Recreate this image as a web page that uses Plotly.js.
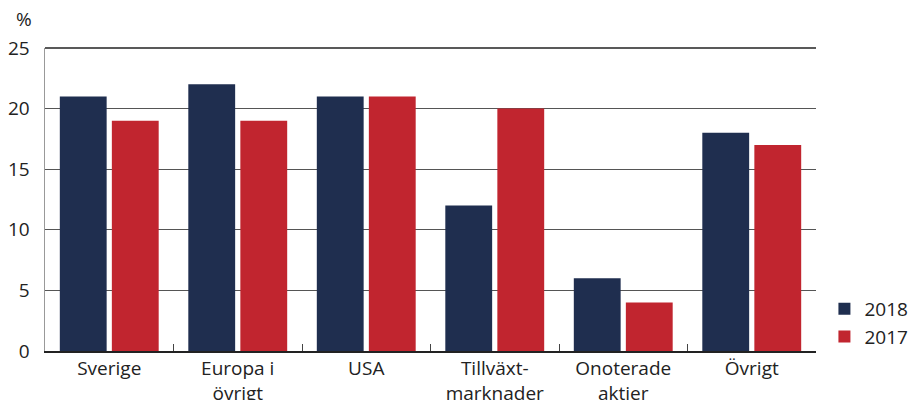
<!DOCTYPE html>
<html>
<head>
<meta charset="utf-8">
<script src="https://cdn.plot.ly/plotly-3.0.1.min.js"></script>
<style>html,body{margin:0;padding:0;background:#fff;}#chart{width:914px;height:400px;}</style>
</head>
<body>
<div id="chart"></div>
<script>
var categories = ["Sverige", "Europa i<br>övrigt", "USA", "Tillväxt-<br>marknader", "Onoterade<br>aktier", "Övrigt"];
var values2018 = [21, 22, 21, 12, 6, 18];
var values2017 = [19, 19, 21, 20, 4, 17];
var yTicks = [0, 5, 10, 15, 20, 25];

var navy = "#1f2e4f";
var red = "#c1252f";
var fontFam = "'Open Sans', Lato, sans-serif";

var data = [
  {type: "bar", name: "2018", x: categories, y: values2018, marker: {color: navy}},
  {type: "bar", name: "2017", x: categories, y: values2017, marker: {color: red}}
];

var layout = {
  width: 914, height: 400,
  margin: {l: 45, r: 98, t: 48, b: 49, autoexpand: false},
  paper_bgcolor: "#fff", plot_bgcolor: "#fff",
  font: {family: fontFam, size: 19, color: "#222"},
  barmode: "group",
  bargap: 0.19,
  bargroupgap: 0.1,
  showlegend: true,
  legend: {xref: "container", yref: "container", x: 0.902, y: 0.11, xanchor: "left", yanchor: "bottom", font: {size: 19, color: "#222"}, itemwidth: 30, tracegroupgap: 2, bgcolor: "rgba(0,0,0,0)"},
  xaxis: {
    type: "category",
    showline: true, linecolor: "#222", linewidth: 1.5,
    ticks: "inside", tickson: "boundaries", ticklen: 7, tickcolor: "#444", tickwidth: 1,
    showgrid: false,
    tickfont: {size: 19, color: "#222"},
    automargin: false
  },
  yaxis: {
    range: [0, 25],
    tickvals: yTicks,
    ticktext: yTicks.map(String),
    showgrid: true, gridcolor: "#555", gridwidth: 1,
    showline: true, linecolor: "#999", linewidth: 1.5,
    zeroline: false,
    ticks: "", ticklabelstandoff: 10,
    tickfont: {size: 19, color: "#222"},
    automargin: false
  },
  annotations: [
    {text: "%", xref: "paper", yref: "paper", x: -0.027, y: 1.045, xanchor: "center", yanchor: "bottom", showarrow: false, font: {size: 19, color: "#222"}}
  ],
  shapes: [
    {type: "line", xref: "paper", yref: "paper", x0: 0, x1: 1, y0: 1, y1: 1, line: {color: "#222", width: 1.5}}
  ]
};

Plotly.newPlot("chart", data, layout, {displayModeBar: false, staticPlot: true});
</script>
</body>
</html>
